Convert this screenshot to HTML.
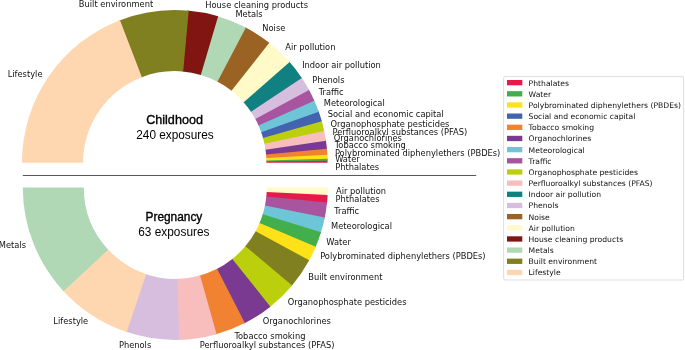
<!DOCTYPE html>
<html lang="en"><head><meta charset="utf-8"><title>Exposures by family: childhood and pregnancy</title>
<style>html,body{margin:0;padding:0;background:#fff}body{width:685px;height:350px;overflow:hidden}svg{display:block}text{white-space:pre}</style>
</head><body>
<svg width="685" height="350" viewBox="0 0 685 350">
<rect width="685" height="350" fill="#fff"/>
<g shape-rendering="geometricPrecision">
<path d="M327.55 162.8A152.8 152.8 0 0 0 327.51 159.47L266.41 160.8A91.68 91.68 0 0 1 266.43 162.8Z" fill="#E6194B"/>
<path d="M327.54 160.8A152.8 152.8 0 0 0 327.46 157.47L266.37 159.6A91.68 91.68 0 0 1 266.42 161.6Z" fill="#43AF4C"/>
<path d="M327.5 158.8A152.8 152.8 0 0 0 327.26 153.47L266.26 157.2A91.68 91.68 0 0 1 266.4 160.4Z" fill="#FFE119"/>
<path d="M327.34 154.8A152.8 152.8 0 0 0 326.78 147.49L265.97 153.61A91.68 91.68 0 0 1 266.3 158Z" fill="#F08232"/>
<path d="M326.91 148.82A152.8 152.8 0 0 0 325.77 139.56L265.36 148.85A91.68 91.68 0 0 1 266.05 154.41Z" fill="#7B3A92"/>
<path d="M325.97 140.87A152.8 152.8 0 0 0 323.93 129.73L264.26 142.96A91.68 91.68 0 0 1 265.48 149.64Z" fill="#F8BEBE"/>
<path d="M324.21 131.03A152.8 152.8 0 0 0 321.45 120.04L262.77 137.15A91.68 91.68 0 0 1 264.43 143.74Z" fill="#BCCF0C"/>
<path d="M321.81 121.32A152.8 152.8 0 0 0 318.34 110.54L260.9 131.44A91.68 91.68 0 0 1 262.99 137.91Z" fill="#4363B0"/>
<path d="M318.79 111.79A152.8 152.8 0 0 0 313.79 99.43L258.18 124.78A91.68 91.68 0 0 1 261.17 132.2Z" fill="#6DC5D7"/>
<path d="M314.34 100.65A152.8 152.8 0 0 0 308.39 88.72L254.94 118.35A91.68 91.68 0 0 1 258.5 125.51Z" fill="#A8549E"/>
<path d="M309.03 89.89A152.8 152.8 0 0 0 301.05 76.8L250.53 111.2A91.68 91.68 0 0 1 255.32 119.05Z" fill="#D8BEDE"/>
<path d="M301.8 77.91A152.8 152.8 0 0 0 288.75 61.05L243.15 101.75A91.68 91.68 0 0 1 250.98 111.87Z" fill="#108080"/>
<path d="M289.63 62.05A152.8 152.8 0 0 0 268.3 41.98L230.88 90.31A91.68 91.68 0 0 1 243.68 102.35Z" fill="#FFFAC8"/>
<path d="M269.35 42.8A152.8 152.8 0 0 0 244.71 26.96L216.73 81.29A91.68 91.68 0 0 1 231.51 90.8Z" fill="#9A6324"/>
<path d="M245.9 27.57A152.8 152.8 0 0 0 216.87 15.92L200.02 74.67A91.68 91.68 0 0 1 217.44 81.66Z" fill="#B0D8B5"/>
<path d="M218.15 16.29A152.8 152.8 0 0 0 187.4 10.52L182.34 71.43A91.68 91.68 0 0 1 200.79 74.9Z" fill="#801512"/>
<path d="M188.73 10.64A152.8 152.8 0 0 0 118.75 20.63L141.15 77.5A91.68 91.68 0 0 1 183.14 71.5Z" fill="#808020"/>
<path d="M119.99 20.15A152.8 152.8 0 0 0 21.95 162.8L83.07 162.8A91.68 91.68 0 0 1 141.89 77.21Z" fill="#FED7B0"/>
</g>
<g shape-rendering="geometricPrecision">
<path d="M327.8 187.4A152.5 152.5 0 0 1 327.54 196.33L266.64 192.76A91.5 91.5 0 0 0 266.8 187.4Z" fill="#FFFAC8"/>
<path d="M327.61 195A152.5 152.5 0 0 1 326.9 203.91L266.26 197.3A91.5 91.5 0 0 0 266.69 191.96Z" fill="#E6194B"/>
<path d="M327.04 202.58A152.5 152.5 0 0 1 324.51 218.92L264.82 206.31A91.5 91.5 0 0 0 266.35 196.51Z" fill="#A8549E"/>
<path d="M324.78 217.62A152.5 152.5 0 0 1 320.63 233.62L262.5 215.13A91.5 91.5 0 0 0 264.99 205.53Z" fill="#6DC5D7"/>
<path d="M321.02 232.35A152.5 152.5 0 0 1 315.3 247.86L259.3 223.68A91.5 91.5 0 0 0 262.73 214.37Z" fill="#43AF4C"/>
<path d="M315.83 246.64A152.5 152.5 0 0 1 308.59 261.5L255.27 231.86A91.5 91.5 0 0 0 259.62 222.94Z" fill="#FFE119"/>
<path d="M309.23 260.33A152.5 152.5 0 0 1 291.26 286.44L244.88 246.82A91.5 91.5 0 0 0 255.66 231.16Z" fill="#808020"/>
<path d="M292.12 285.43A152.5 152.5 0 0 1 269.34 307.45L231.72 259.43A91.5 91.5 0 0 0 245.39 246.22Z" fill="#BCCF0C"/>
<path d="M270.38 306.63A152.5 152.5 0 0 1 243.69 323.71L216.33 269.18A91.5 91.5 0 0 0 232.35 258.94Z" fill="#7B3A92"/>
<path d="M244.87 323.11A152.5 152.5 0 0 1 215.32 334.56L199.31 275.69A91.5 91.5 0 0 0 217.04 268.82Z" fill="#F08232"/>
<path d="M216.6 334.2A152.5 152.5 0 0 1 177.77 339.88L176.78 278.89A91.5 91.5 0 0 0 200.08 275.48Z" fill="#F8BEBE"/>
<path d="M179.1 339.85A152.5 152.5 0 0 1 125.47 331.53L145.4 273.88A91.5 91.5 0 0 0 177.58 278.87Z" fill="#D8BEDE"/>
<path d="M126.73 331.96A152.5 152.5 0 0 1 62.61 290.15L107.69 249.05A91.5 91.5 0 0 0 146.16 274.14Z" fill="#FED7B0"/>
<path d="M63.51 291.13A152.5 152.5 0 0 1 22.8 187.4L83.8 187.4A91.5 91.5 0 0 0 108.23 249.64Z" fill="#B0D8B5"/>
</g>
<line x1="22.8" y1="175.48" x2="476.2" y2="175.48" stroke="#111" stroke-width="0.72"/>
<g font-family="'DejaVu Sans', 'Liberation Sans', sans-serif" font-size="8.3" fill="#111">
<text x="335.2" y="169.95" text-anchor="start">Phthalates</text>
<text x="335.2" y="161.9" text-anchor="start">Water</text>
<text x="334.9" y="155.6" text-anchor="start">Polybrominated diphenylethers (PBDEs)</text>
<text x="334.7" y="148.15" text-anchor="start">Tobacco smoking</text>
<text x="333.8" y="141.05" text-anchor="start">Organochlorines</text>
<text x="332.5" y="134.75" text-anchor="start">Perfluoroalkyl substances (PFAS)</text>
<text x="330.5" y="126.85" text-anchor="start">Organophosphate pesticides</text>
<text x="327.71" y="117.19" text-anchor="start">Social and economic capital</text>
<text x="323.83" y="106.34" text-anchor="start">Meteorological</text>
<text x="318.71" y="94.85" text-anchor="start">Traffic</text>
<text x="312.17" y="82.9" text-anchor="start">Phenols</text>
<text x="302.14" y="68.2" text-anchor="start">Indoor air pollution</text>
<text x="285.32" y="49.52" text-anchor="start">Air pollution</text>
<text x="262.31" y="31.38" text-anchor="start">Noise</text>
<text x="235.41" y="17.34" text-anchor="start">Metals</text>
<text x="205.31" y="8.42" text-anchor="start">House cleaning products</text>
<text x="153.16" y="7.06" text-anchor="end">Built environment</text>
<text x="42.5" y="76.65" text-anchor="end">Lifestyle</text>
<text x="335.98" y="193.87" text-anchor="start">Air pollution</text>
<text x="335.58" y="201.84" text-anchor="start">Phthalates</text>
<text x="334.24" y="213.74" text-anchor="start">Traffic</text>
<text x="331.07" y="229.39" text-anchor="start">Meteorological</text>
<text x="326.37" y="244.64" text-anchor="start">Water</text>
<text x="320.17" y="259.35" text-anchor="start">Polybrominated diphenylethers (PBDEs)</text>
<text x="308.2" y="280.07" text-anchor="start">Built environment</text>
<text x="287.71" y="304.5" text-anchor="start">Organophosphate pesticides</text>
<text x="262.78" y="324.38" text-anchor="start">Organochlorines</text>
<text x="234.4" y="338.93" text-anchor="start">Tobacco smoking</text>
<text x="199.77" y="348.21" text-anchor="start">Perfluoroalkyl substances (PFAS)</text>
<text x="151.23" y="348.21" text-anchor="end">Phenols</text>
<text x="88.22" y="324.38" text-anchor="end">Lifestyle</text>
<text x="26.04" y="248.37" text-anchor="end">Metals</text>
</g>
<g font-family="'Liberation Sans', sans-serif" text-anchor="middle" fill="#000">
<text x="174.55" y="124.0" font-size="12.6" stroke="#000" stroke-width="0.36" textLength="56.8" lengthAdjust="spacingAndGlyphs">Childhood</text>
<text x="175" y="139.4" font-size="12.2" textLength="77.5" lengthAdjust="spacingAndGlyphs">240 exposures</text>
<text x="173.9" y="220.7" font-size="12.4" stroke="#000" stroke-width="0.36" textLength="56.8" lengthAdjust="spacingAndGlyphs">Pregnancy</text>
<text x="173.85" y="236.3" font-size="12.0" textLength="71.3" lengthAdjust="spacingAndGlyphs">63 exposures</text>
</g>
<rect x="503.6" y="76.6" width="180.0" height="203.4" rx="1.5" fill="#fff" stroke="#d4d4d4" stroke-width="0.8"/>
<g font-family="'DejaVu Sans', 'Liberation Sans', sans-serif" font-size="7.65" fill="#111">
<rect x="507" y="80" width="15.3" height="5.3" fill="#E6194B"/>
<text x="528.6" y="85.65">Phthalates</text>
<rect x="507" y="91.16" width="15.3" height="5.3" fill="#43AF4C"/>
<text x="528.6" y="96.81">Water</text>
<rect x="507" y="102.33" width="15.3" height="5.3" fill="#FFE119"/>
<text x="528.6" y="107.98">Polybrominated diphenylethers (PBDEs)</text>
<rect x="507" y="113.5" width="15.3" height="5.3" fill="#4363B0"/>
<text x="528.6" y="119.15">Social and economic capital</text>
<rect x="507" y="124.66" width="15.3" height="5.3" fill="#F08232"/>
<text x="528.6" y="130.31">Tobacco smoking</text>
<rect x="507" y="135.82" width="15.3" height="5.3" fill="#7B3A92"/>
<text x="528.6" y="141.47">Organochlorines</text>
<rect x="507" y="146.99" width="15.3" height="5.3" fill="#6DC5D7"/>
<text x="528.6" y="152.64">Meteorological</text>
<rect x="507" y="158.16" width="15.3" height="5.3" fill="#A8549E"/>
<text x="528.6" y="163.81">Traffic</text>
<rect x="507" y="169.32" width="15.3" height="5.3" fill="#BCCF0C"/>
<text x="528.6" y="174.97">Organophosphate pesticides</text>
<rect x="507" y="180.48" width="15.3" height="5.3" fill="#F8BEBE"/>
<text x="528.6" y="186.13">Perfluoroalkyl substances (PFAS)</text>
<rect x="507" y="191.65" width="15.3" height="5.3" fill="#108080"/>
<text x="528.6" y="197.3">Indoor air pollution</text>
<rect x="507" y="202.81" width="15.3" height="5.3" fill="#D8BEDE"/>
<text x="528.6" y="208.47">Phenols</text>
<rect x="507" y="213.98" width="15.3" height="5.3" fill="#9A6324"/>
<text x="528.6" y="219.63">Noise</text>
<rect x="507" y="225.14" width="15.3" height="5.3" fill="#FFFAC8"/>
<text x="528.6" y="230.79">Air pollution</text>
<rect x="507" y="236.31" width="15.3" height="5.3" fill="#801512"/>
<text x="528.6" y="241.96">House cleaning products</text>
<rect x="507" y="247.47" width="15.3" height="5.3" fill="#B0D8B5"/>
<text x="528.6" y="253.12">Metals</text>
<rect x="507" y="258.64" width="15.3" height="5.3" fill="#808020"/>
<text x="528.6" y="264.29">Built environment</text>
<rect x="507" y="269.8" width="15.3" height="5.3" fill="#FED7B0"/>
<text x="528.6" y="275.45">Lifestyle</text>
</g>
</svg>
</body></html>
